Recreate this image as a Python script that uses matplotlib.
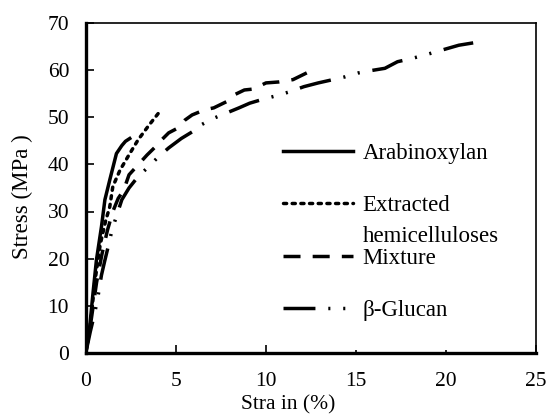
import matplotlib
matplotlib.use('Agg')
from matplotlib import pyplot as plt

# strain (%) / stress (MPa)
arab_strain = [0, 0.22, 0.4, 0.59, 0.87, 1.06, 1.33, 1.7, 2.0, 2.2, 2.44]
arab_stress = [0, 5.6, 12.7, 19.7, 26.8, 32.5, 36.7, 42.3, 44.0, 44.9, 45.5]

hemi_strain = [0, 0.25, 0.5, 0.8, 1.1, 1.33, 1.5, 1.9, 2.44, 2.9, 3.5, 4.1]
hemi_stress = [0, 6, 15, 23, 28, 31, 35.3, 38.8, 42.3, 45.2, 48.3, 51.2]

mix_strain = [0, 0.3, 0.6, 0.9, 1.2, 1.5, 1.8, 2.1, 2.4, 2.9, 3.4, 3.8, 4.1, 4.6, 5.1,
              5.5, 5.9, 6.6, 7.1, 7.8, 8.2, 8.8, 9.3, 10.0, 10.7, 11.5, 12.3]
mix_stress = [0, 7, 15, 21, 26, 30, 32.8, 34.5, 37.8, 39.9, 42, 43.5, 44.8, 46.7, 47.7,
              49.4, 50.5, 51.6, 52, 53.3, 54.7, 55.8, 56, 57.3, 57.5, 58, 59.5]

glu_strain = [0, 0.25, 0.5, 0.7, 0.87, 1.05, 1.24, 1.45, 1.7, 2.0, 2.4, 2.9, 3.4, 4.0,
              4.6, 5.3, 5.9, 6.4, 7.1, 7.8, 8.5, 9.1, 9.8, 10.5, 11.3, 12.1, 12.9,
              13.6, 14.4, 15.1, 15.8, 16.6, 17.3, 18.1, 18.8, 19.7, 20.7, 21.5]
glu_stress = [0, 4.5, 8.5, 12.5, 16.5, 19.5, 22.5, 26, 29, 32.5, 35, 37.4, 39.2, 41.5,
              43.5, 45.5, 46.9, 48.4, 49.8, 50.9, 52, 53, 53.8, 54.5, 55.4, 56.5, 57.3,
              57.9, 58.6, 59.4, 59.9, 60.4, 61.8, 62.5, 63.2, 64.2, 65.3, 65.8]

labels = ['Arabinoxylan', 'Extracted', 'Mixture', 'β-Glucan']
x_ticks = [0, 5, 10, 15, 20, 25]
y_ticks = [0, 10, 20, 30, 40, 50, 60, 70]

plt.rcParams['font.family'] = ['Liberation Serif', 'DejaVu Serif']
plt.rcParams['font.size'] = 15.5

fig = plt.figure(figsize=(5.5, 4.2), dpi=100)
ax = fig.add_axes([0.156, 0.16, 0.819, 0.785])

lw = 2.5
ax.plot(arab_strain, arab_stress, color='black', lw=lw, ls='-', label=labels[0])
ax.plot(hemi_strain, hemi_stress, color='black', lw=lw, ls=(0, (0.9, 1.6)),
        dash_capstyle='round', label=labels[1])
ax.plot(mix_strain, mix_stress, color='black', lw=lw, ls=(0, (4.9, 3.5)), label=labels[2])
ax.plot(glu_strain, glu_stress, color='black', lw=lw,
        ls=(0, (9.2, 3.7, 0.6, 3.7, 0.6, 3.7)), label=labels[3])

ax.set_xlim(0, 25)
ax.set_ylim(0, 70)
ax.set_xticks(x_ticks)
ax.set_yticks(y_ticks)
ax.tick_params(direction='in', length=6, width=1.2)
ax.tick_params(axis='x', pad=14)
ax.tick_params(axis='y', pad=12)
# the 15 and 20 ticks are only stubs in the original
for t in ax.xaxis.get_major_ticks()[3:5]:
    t.tick1line.set_markersize(2)

for side in ['left', 'bottom']:
    ax.spines[side].set_linewidth(2.4)
for side in ['top', 'right']:
    ax.spines[side].set_linewidth(1.2)

ax.set_xlabel('Stra in (%)', labelpad=0)
ax.xaxis.set_label_coords(0.449, -0.13)
ax.set_ylabel('Stress (MPa )', fontsize=16.5)
ax.yaxis.set_label_coords(-0.118, 0.473)

leg = ax.legend(frameon=False, loc='upper left', bbox_to_anchor=(0.438, 0.637),
                fontsize=16.5, handlelength=3.06, handletextpad=0.4,
                labelspacing=1.37, borderpad=0, borderaxespad=0)
ax.annotate('hemicelluloses', xy=(0, 0.5), xycoords=leg.get_texts()[1],
            xytext=(0, -31), textcoords='offset pixels',
            ha='left', va='center', fontsize=16.5, zorder=6)

plt.savefig('out.png', dpi=100)
